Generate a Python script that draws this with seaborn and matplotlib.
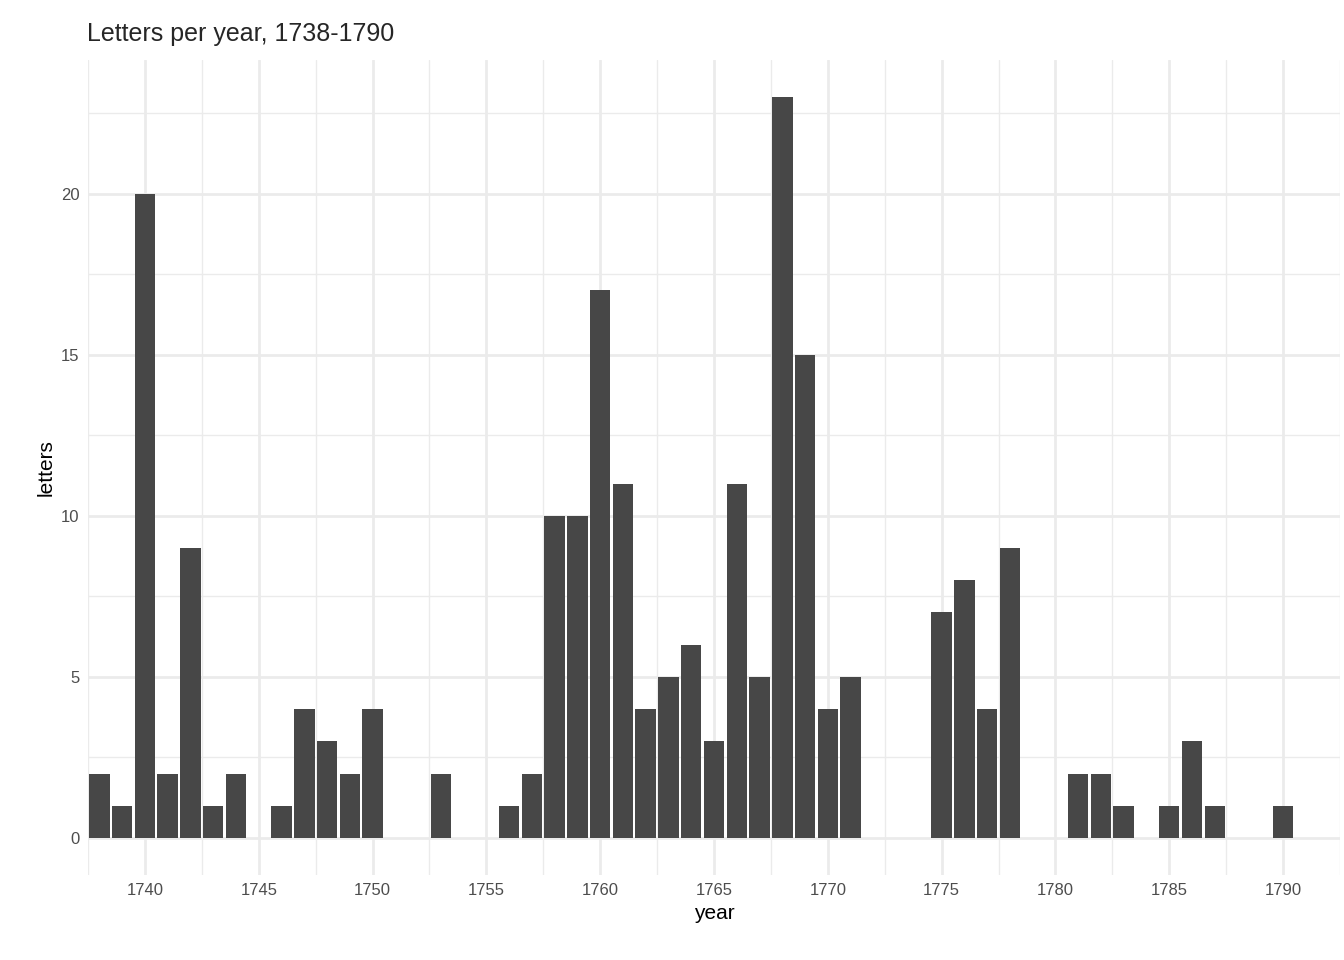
import numpy as np
import matplotlib
matplotlib.use("Agg")
import matplotlib.pyplot as plt
import pandas as pd
import seaborn as sns

years = [1738, 1739, 1740, 1741, 1742, 1743, 1744, 1746, 1747, 1748, 1749, 1750,
         1753, 1756, 1757, 1758, 1759, 1760, 1761, 1762, 1763, 1764, 1765, 1766,
         1767, 1768, 1769, 1770, 1771, 1775, 1776, 1777, 1778, 1781, 1782, 1783,
         1785, 1786, 1787, 1790]
letters = [2, 1, 20, 2, 9, 1, 2, 1, 4, 3, 2, 4,
           2, 1, 2, 10, 10, 17, 11, 4, 5, 6, 3, 11,
           5, 23, 15, 4, 5, 7, 8, 4, 9, 2, 2, 1,
           1, 3, 1, 1]
x_ticks = [1740, 1745, 1750, 1755, 1760, 1765, 1770, 1775, 1780, 1785, 1790]
y_ticks = [0, 5, 10, 15, 20]

df = pd.DataFrame({"year": years, "letters": letters})

sns.set_style("white")
plt.rcParams['font.family'] = ['Liberation Sans', 'DejaVu Sans']

fig = plt.figure(figsize=(13.44, 9.6), dpi=100)
ax = fig.add_axes([0.0655, 0.0885, 0.9315, 0.849])

sns.barplot(data=df, x="year", y="letters", native_scale=True, width=0.9,
            color="#474747", saturation=1, edgecolor="none", ax=ax)

ax.set_xlim(1737.55, 1790.95)
ax.set_ylim(-1.15, 24.15)
ax.set_xticks(x_ticks)
ax.set_yticks(y_ticks)
ax.set_xticks([t + 2.5 for t in [1735] + x_ticks], minor=True)
ax.set_yticks([2.5, 7.5, 12.5, 17.5, 22.5], minor=True)
ax.grid(True, which="major", color="#ebebeb", linewidth=2)
ax.grid(True, which="minor", color="#ebebeb", linewidth=1)
ax.set_axisbelow(True)
for s in ax.spines.values():
    s.set_visible(False)
ax.tick_params(which="both", length=0, labelsize=12, colors="#4d4d4d", pad=6)

ax.set_xlabel("year", fontsize=15, color="black")
ax.set_ylabel("letters", fontsize=15, color="black")
ax.set_title("Letters per year, 1738-1790", fontsize=18, loc="left", x=-0.001, pad=14)

fig.savefig("out.png", dpi=100)
